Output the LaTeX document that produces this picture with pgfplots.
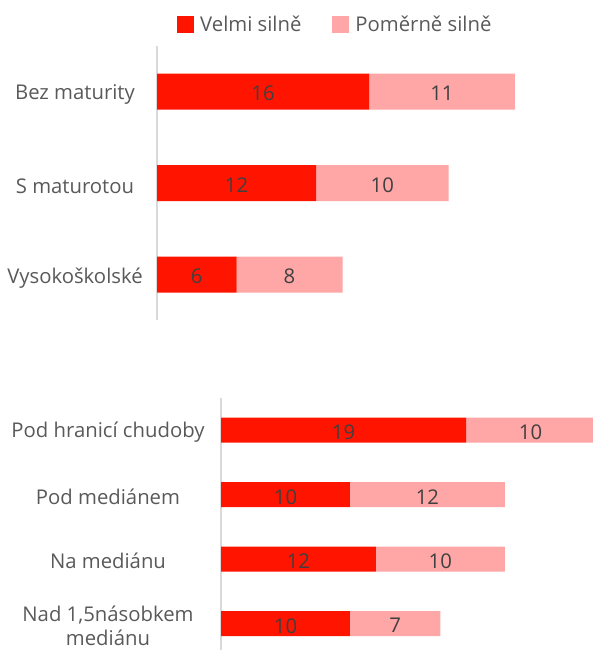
\documentclass[border=0pt]{standalone}
\usepackage{pgfplots}
\pgfplotsset{compat=1.18}
\usepackage{pgfplotstable}
\usepackage{fontspec}
\setmainfont{Open Sans}
\definecolor{redc}{RGB}{255,20,0}
\definecolor{pinkc}{RGB}{255,166,166}
\definecolor{txt}{RGB}{89,89,89}
\definecolor{num}{RGB}{64,64,64}
\definecolor{axc}{RGB}{217,217,217}

\pgfplotstableread{
idx v1 v2
0 16 11
1 12 10
2 6 8
}\topdata
\pgfplotstableread{
idx v1 v2
0 19 10
1 10 12
2 12 10
3 10 7
}\botdata

\newcommand{\fs}{\fontsize{20.3}{24.5}\selectfont}

\pgfplotsset{
  sq/.style={legend image code/.code={\draw[##1,/tikz/.cd,draw=none] (0pt,-8.5pt) rectangle (17pt,8.5pt);}},
  base/.style={scale only axis, y dir=reverse, xmin=0,
    axis x line=none, axis y line*=left,
    axis line style={draw=axc, line width=1.3pt},
    major tick length=0pt, ytick style={draw=none},
    tick label style={font=\fs, text=txt},
    yticklabel style={anchor=center, align=center},
  },
  lab/.style={scale only axis, y dir=reverse, xmin=0, hide axis},
  nums/.style={draw=none, mark=none, nodes near coords, point meta=explicit symbolic,
    nodes near coords align=center,
    every node near coord/.append style={font=\fs, text=num, anchor=center, yshift=-2pt}},
}

\begin{document}
\begin{tikzpicture}
\path[use as bounding box] (0,0) rectangle (593pt,650pt);

% ---------- top panel ----------
\begin{axis}[base, at={(157pt,604pt)}, anchor=north west,
  width=397.5pt, height=274.5pt, xmax=30, ymin=-0.5, ymax=2.5,
  xbar stacked, bar width=36pt,
  ytick={0,1,2}, yticklabels={Bez maturity, S maturotou, Vysokoškolské},
  yticklabel style={xshift=-82pt, yshift=-3pt},
  legend columns=2,
  legend style={at={(axis description cs:0.0503,1.0783)}, anchor=west,
    draw=none, fill=none, inner sep=0pt, font=\fs, text=txt,
    /tikz/every odd column/.append style={column sep=4pt},
    /tikz/every even column/.append style={column sep=29pt}},
]
\addplot[fill=redc, draw=none, sq] table[x=v1, y=idx] {\topdata};
\addlegendentry{Velmi silně}
\addplot[fill=pinkc, draw=none, sq] table[x=v2, y=idx] {\topdata};
\addlegendentry{Poměrně silně}
\end{axis}

\begin{axis}[lab, at={(157pt,604pt)}, anchor=north west,
  width=397.5pt, height=274.5pt, xmax=30, ymin=-0.5, ymax=2.5]
\addplot[nums] table[x expr=\thisrow{v1}/2, y=idx, meta=v1] {\topdata};
\addplot[nums] table[x expr=\thisrow{v1}+\thisrow{v2}/2, y=idx, meta=v2] {\topdata};
\end{axis}

% ---------- bottom panel ----------
\begin{axis}[base, at={(221pt,252pt)}, anchor=north west,
  width=372pt, height=258pt, xmax=28.84, ymin=-0.5, ymax=3.5,
  xbar stacked, bar width=25pt,
  ytick={0,1,2,3}, yticklabels={Pod hranicí chudoby, Pod mediánem, Na mediánu, {Nad 1,5násobkem\\mediánu}},
  yticklabel style={xshift=-113pt, yshift=-2pt},
]
\addplot[fill=redc, draw=none] table[x=v1, y=idx] {\botdata};
\addplot[fill=pinkc, draw=none] table[x=v2, y=idx] {\botdata};
\end{axis}

\begin{axis}[lab, at={(221pt,252pt)}, anchor=north west,
  width=372pt, height=258pt, xmax=28.84, ymin=-0.5, ymax=3.5]
\addplot[nums] table[x expr=\thisrow{v1}/2, y=idx, meta=v1] {\botdata};
\addplot[nums] table[x expr=\thisrow{v1}+\thisrow{v2}/2, y=idx, meta=v2] {\botdata};
\end{axis}
\end{tikzpicture}
\end{document}
